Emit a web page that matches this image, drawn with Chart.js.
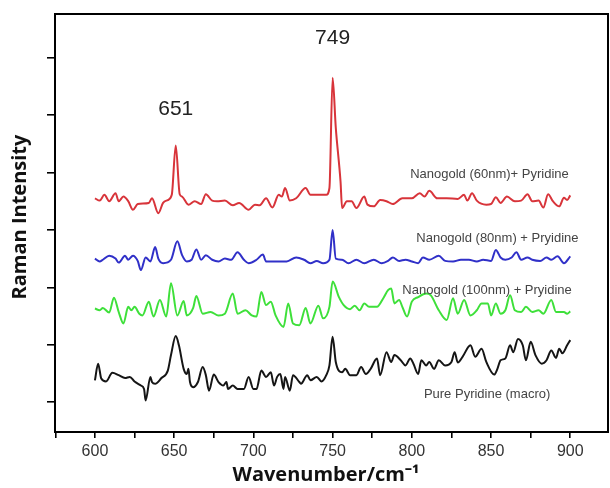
<!DOCTYPE html>
<html>
<head>
<meta charset="utf-8">
<title>Raman spectra</title>
<script src="https://cdn.jsdelivr.net/npm/chart.js@4/dist/chart.umd.min.js"></script>
<style>
  html, body { margin: 0; padding: 0; background: #fff; }
  #wrap { width: 610px; height: 488px; }
</style>
</head>
<body>
<div id="wrap"><canvas id="grafico" width="610" height="488"></canvas></div>
<script>
// Espectros (unidades arbitrarias, 1 divisao = 1)
const redX = [600,603,606,609,613,615,618,621,624,627,634,636,640,643,646,648.5,651,653.5,655,659,663,667,670,674,677,682,687,691,697,701,704,708,712,716,718,720,723,727,733,736,746,748,750,752,755,756,759,762,765,770,772,776,780,784,788,794,800,805,808,811,816,822,829,833,835,838,841,847,850,853,856,860,865,869,873,876,880,883,886,889,893,896,898,900];
const redY = [4.55,4.51,4.61,4.50,4.64,4.50,4.58,4.50,4.35,4.45,4.47,4.55,4.29,4.47,4.52,4.61,5.47,4.62,4.58,4.44,4.50,4.45,4.62,4.51,4.50,4.51,4.43,4.47,4.35,4.44,4.43,4.55,4.39,4.61,4.58,4.73,4.51,4.55,4.73,4.61,4.61,4.73,6.65,5.78,4.84,4.38,4.50,4.50,4.38,4.58,4.44,4.41,4.52,4.50,4.45,4.55,4.55,4.64,4.58,4.68,4.55,4.55,4.54,4.61,4.51,4.64,4.51,4.44,4.45,4.57,4.47,4.58,4.50,4.51,4.62,4.50,4.51,4.39,4.62,4.50,4.41,4.56,4.52,4.60];

const blueX = [600,603,605,609,613,615,619,621,624,627,629,632,635,638,640,643,648,652,655,658,661,664,667,670,674,678,682,686,690,694,697,702,706,708,712,717,721,727,732,736,740,744,748,750,752,756,760,765,770,776,781,785,788,792,796,800,804,807,811,817,821,826,831,836,841,845,850,853,856,859,863,866,869,873,876,881,885,888,892,896,900];
const blueY = [3.50,3.45,3.48,3.55,3.50,3.43,3.55,3.48,3.55,3.46,3.30,3.52,3.45,3.70,3.50,3.42,3.48,3.80,3.56,3.45,3.48,3.66,3.48,3.56,3.48,3.45,3.50,3.48,3.61,3.48,3.42,3.48,3.57,3.45,3.45,3.45,3.45,3.52,3.48,3.42,3.46,3.42,3.48,4.00,3.50,3.48,3.42,3.48,3.42,3.48,3.42,3.46,3.52,3.46,3.48,3.45,3.42,3.52,3.48,3.55,3.46,3.45,3.48,3.48,3.45,3.48,3.46,3.65,3.52,3.48,3.52,3.61,3.48,3.52,3.48,3.46,3.52,3.48,3.54,3.42,3.54];

const greenX = [600,603,605,609,612,615,618,621,623,625,628,630,634,637,641,645,648,652,656,658,662,664,668,673,678,682,687,690,695,699,702,705,708,711,714,719,722,725,729,733,736,741,744,748,750,754,757,761,764,767,770,773,778,782,785,787,789,792,794,797,800,804,809,812,817,822,826,829,833,837,841,844,848,850,853,856,859,862,865,869,872,876,880,883,888,891,896,898,900];
const greenY = [2.63,2.60,2.64,2.56,2.82,2.57,2.37,2.66,2.60,2.66,2.54,2.51,2.75,2.49,2.78,2.49,3.07,2.51,2.76,2.51,2.64,2.85,2.54,2.57,2.51,2.54,2.89,2.54,2.60,2.51,2.49,2.92,2.69,2.75,2.51,2.31,2.72,2.37,2.34,2.64,2.37,2.68,2.46,2.66,3.10,2.83,2.69,2.62,2.68,2.60,2.72,2.66,2.66,2.81,2.95,2.98,2.72,2.78,2.66,2.49,2.75,2.83,2.89,2.86,2.60,2.43,2.81,2.54,2.78,2.51,2.60,2.72,2.72,2.51,2.72,2.54,2.60,2.86,2.60,2.57,2.66,2.57,2.60,2.54,2.78,2.57,2.57,2.54,2.58];

const blackX = [600,602,604,607,611,615,619,622,625,629,631,632,635,636,638,642,646,648,651,653,656,658,659,660,662,665,668,670,672,675,678,681,683,684,687,690,694,697,700,702,705,708,711,713,715,717,719,720,723,725,729,730,734,736,740,743,746,748,750,752,756,758,761,765,768,771,774,778,780,784,787,789,793,796,799,801,804,806,809,811,814,817,821,825,827,829,832,837,840,844,847,852,854,856,859,862,864,867,870,872,875,878,882,885,888,891,893,895,898,900];
const blackY = [1.38,1.67,1.41,1.36,1.51,1.47,1.42,1.44,1.36,1.29,1.23,1.03,1.44,1.35,1.32,1.42,1.55,1.82,2.15,1.99,1.58,1.49,1.58,1.35,1.26,1.35,1.61,1.47,1.20,1.48,1.35,1.29,1.35,1.23,1.29,1.23,1.23,1.44,1.23,1.23,1.55,1.44,1.52,1.29,1.44,1.49,1.23,1.44,1.20,1.47,1.35,1.32,1.47,1.38,1.44,1.36,1.47,1.64,2.14,1.70,1.52,1.58,1.47,1.47,1.61,1.49,1.58,1.76,1.47,1.87,1.70,1.82,1.73,1.64,1.76,1.67,1.49,1.73,1.64,1.70,1.58,1.73,1.64,1.70,1.87,1.69,1.79,1.99,1.79,1.93,1.70,1.48,1.58,1.73,1.76,1.99,1.87,2.10,1.99,1.73,2.05,1.82,1.67,1.73,1.90,1.77,1.93,1.85,1.99,2.08];

const seriesNames = ['Nanogold (60nm)+ Pyridine', 'Nanogold (80nm) + Pryidine', 'Nanogold (100nm) + Pryidine', 'Pure Pyridine (macro)'];
const xTicks = [575,600,625,650,675,700,725,750,775,800,825,850,875,900];
const yTicks = [1,2,3,4,5,6,7];
const peakLabels = ['651', '749'];

function pares(xs, ys) {
    return xs.map((x, i) => ({ x: x, y: ys[i] }));
}

function serie(nome, xs, ys, cor) {
    return {
        label: nome,
        data: pares(xs, ys),
        borderColor: cor,
        borderWidth: 2,
        pointRadius: 0,
        fill: false,
        cubicInterpolationMode: 'monotone'
    };
}

// textos e moldura
const anotacoes = {
    id: 'anotacoes',
    afterDraw(chart) {
        const { ctx, chartArea: a, scales: { x, y } } = chart;
        ctx.save();
        ctx.strokeStyle = '#000';
        ctx.lineWidth = 2;
        ctx.strokeRect(a.left, a.top, a.right - a.left, a.bottom - a.top);

        ctx.textAlign = 'center';
        ctx.textBaseline = 'middle';
        ctx.fillStyle = '#222';
        ctx.font = '21px "Liberation Sans", Arial, sans-serif';
        ctx.fillText(peakLabels[0], x.getPixelForValue(651), y.getPixelForValue(6.11));
        ctx.fillText(peakLabels[1], x.getPixelForValue(750), y.getPixelForValue(7.33));

        ctx.fillStyle = '#444';
        ctx.font = '13px "Liberation Sans", Arial, sans-serif';
        ctx.fillText(seriesNames[0], x.getPixelForValue(849), y.getPixelForValue(4.97));
        ctx.fillText(seriesNames[1], x.getPixelForValue(854), y.getPixelForValue(3.85));
        ctx.fillText(seriesNames[2], x.getPixelForValue(847.5), y.getPixelForValue(2.94));
        ctx.fillText(seriesNames[3], x.getPixelForValue(847.5), y.getPixelForValue(1.14));

        ctx.fillStyle = '#111';
        ctx.font = 'bold 20px "Open Sans", sans-serif';
        ctx.fillText('Wavenumber/cm\u207B\u00B9', 326, 475);
        ctx.translate(20, 217);
        ctx.rotate(-Math.PI / 2);
        ctx.fillText('Raman Intensity', 0, 0);
        ctx.restore();
    }
};

const ctx = document.getElementById('grafico').getContext('2d');
new Chart(ctx, {
    type: 'line',
    data: {
        datasets: [
            serie(seriesNames[0], redX, redY, '#d8343a'),
            serie(seriesNames[1], blueX, blueY, '#3030c8'),
            serie(seriesNames[2], greenX, greenY, '#3ee03a'),
            serie(seriesNames[3], blackX, blackY, '#151515')
        ]
    },
    options: {
        responsive: false,
        animation: false,
        layout: { padding: { top: 14, right: 2, left: 0, bottom: 0 } },
        plugins: { legend: { display: false }, tooltip: { enabled: false } },
        scales: {
            x: {
                type: 'linear',
                min: 574.8,
                max: 923.8,
                afterFit(scale) { scale.height = 56; },
                afterBuildTicks(scale) { scale.ticks = xTicks.map(v => ({ value: v })); },
                border: { display: false },
                grid: { drawOnChartArea: false, drawTicks: true, tickLength: 6, color: '#000', lineWidth: 1.6 },
                ticks: {
                    padding: 4,
                    color: '#333',
                    font: { family: '"Liberation Sans", Arial, sans-serif', size: 16 },
                    autoSkip: false,
                    maxRotation: 0,
                    callback: v => (v % 50 === 0 ? String(v) : '')
                }
            },
            y: {
                type: 'linear',
                min: 0.48,
                max: 7.76,
                afterFit(scale) { scale.width = 55; },
                afterBuildTicks(scale) { scale.ticks = yTicks.map(v => ({ value: v })); },
                border: { display: false },
                grid: { drawOnChartArea: false, drawTicks: true, tickLength: 8, color: '#000', lineWidth: 1.6 },
                ticks: { callback: () => '' }
            }
        }
    },
    plugins: [anotacoes]
});
</script>
</body>
</html>
